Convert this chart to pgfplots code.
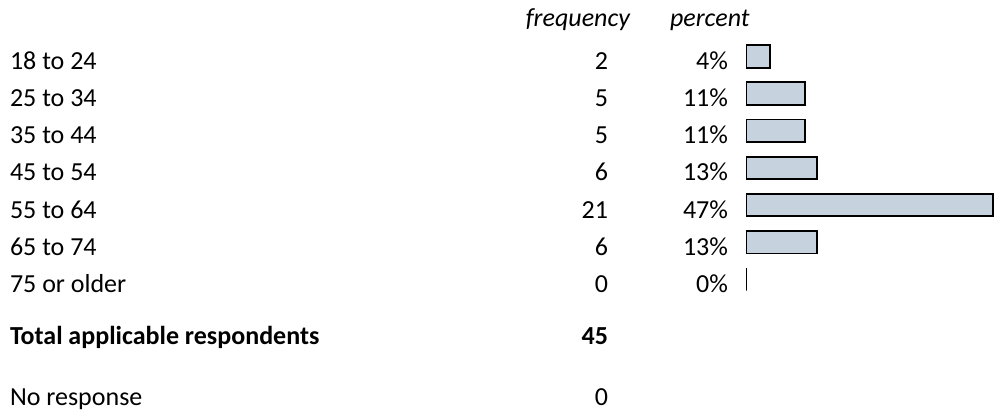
\documentclass[border=0pt]{standalone}
\usepackage{fontspec}
\setmainfont{Carlito}
\usepackage{pgfplots}
\pgfplotsset{compat=1.18}
\definecolor{barfill}{RGB}{198,211,223}
\tikzset{lab/.style={inner sep=0pt, outer sep=0pt, font=\fontsize{13}{15}\selectfont}}
\begin{document}
\begin{tikzpicture}
\begin{axis}[
  width=497pt, height=206pt, scale only axis,
  xmin=-141.115, xmax=46.786,
  ymin=0, ymax=412, y dir=reverse,
  hide axis, clip=false,
]
\addplot[xbar, bar width=11.3pt, fill=barfill, draw=black, line width=0.9pt]
  coordinates {(4.444,56.5) (11.111,93.6) (11.111,130.8) (13.333,167.9) (46.667,205.0) (13.333,242.2) (0,279.3)};
% header
\node[lab, anchor=base east] at (axis cs:-22.02,26) {\itshape frequency};
\node[lab, anchor=base west] at (axis cs:-14.46,26) {\itshape percent};
% rows
\node[lab, anchor=base west] at (axis cs:-139.22,69.5) {18 to 24};
\node[lab, anchor=base west] at (axis cs:-139.22,106.6) {25 to 34};
\node[lab, anchor=base west] at (axis cs:-139.22,143.8) {35 to 44};
\node[lab, anchor=base west] at (axis cs:-139.22,180.9) {45 to 54};
\node[lab, anchor=base west] at (axis cs:-139.22,218.0) {55 to 64};
\node[lab, anchor=base west] at (axis cs:-139.22,255.2) {65 to 74};
\node[lab, anchor=base west] at (axis cs:-139.22,292.3) {75 or older};
\node[lab, anchor=base west] at (axis cs:-139.22,344.3) {\bfseries Total applicable respondents};
\node[lab, anchor=base west] at (axis cs:-139.22,405.7) {No response};
% frequency
\node[lab, anchor=base east] at (axis cs:-26.18,69.5) {2};
\node[lab, anchor=base east] at (axis cs:-26.18,106.6) {5};
\node[lab, anchor=base east] at (axis cs:-26.18,143.8) {5};
\node[lab, anchor=base east] at (axis cs:-26.18,180.9) {6};
\node[lab, anchor=base east] at (axis cs:-26.18,218.0) {21};
\node[lab, anchor=base east] at (axis cs:-26.18,255.2) {6};
\node[lab, anchor=base east] at (axis cs:-26.18,292.3) {0};
\node[lab, anchor=base east] at (axis cs:-26.18,344.3) {\bfseries 45};
\node[lab, anchor=base east] at (axis cs:-26.18,405.7) {0};
% percent
\node[lab, anchor=base east] at (axis cs:-3.5,69.5) {4\%};
\node[lab, anchor=base east] at (axis cs:-3.5,106.6) {11\%};
\node[lab, anchor=base east] at (axis cs:-3.5,143.8) {11\%};
\node[lab, anchor=base east] at (axis cs:-3.5,180.9) {13\%};
\node[lab, anchor=base east] at (axis cs:-3.5,218.0) {47\%};
\node[lab, anchor=base east] at (axis cs:-3.5,255.2) {13\%};
\node[lab, anchor=base east] at (axis cs:-3.5,292.3) {0\%};
\end{axis}
\pgfresetboundingbox
\path (current axis.south west) rectangle (current axis.north east);
\end{tikzpicture}
\end{document}
